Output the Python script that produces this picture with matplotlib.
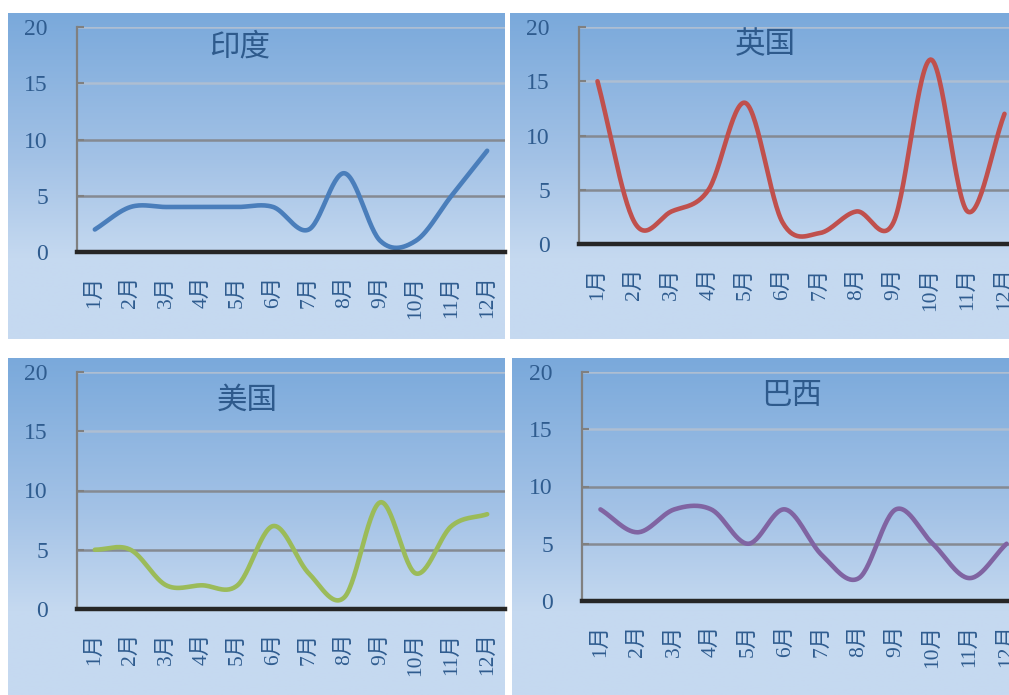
import numpy as np
import matplotlib
matplotlib.use("Agg")
import matplotlib.pyplot as plt
from matplotlib.colors import LinearSegmentedColormap

months = ["1月", "2月", "3月", "4月", "5月", "6月", "7月", "8月", "9月", "10月", "11月", "12月"]
titles = ["印度", "英国", "美国", "巴西"]
india = [2, 4, 4, 4, 4, 4, 2, 7, 1, 1, 5, 9]
uk = [15, 2, 3, 5, 13, 2, 1, 3, 2, 17, 3, 12]
usa = [5, 5, 2, 2, 2, 7, 3, 1, 9, 3, 7, 8]
brazil = [8, 6, 8, 8, 5, 8, 4, 2, 8, 5, 2, 5]
yticks = [0, 5, 10, 15, 20]
colors = ["#4A7EBB", "#C0504D", "#9BBB59", "#8064A2"]
series = [india, uk, usa, brazil]

W, H = 1009, 695
fig = plt.figure(figsize=(W / 100, H / 100), dpi=100)
fig.patch.set_facecolor("white")

serif = ["Liberation Serif", "Noto Sans CJK SC"]
tick_color = "#2F5C8F"

# panel layouts in pixels: (bg x0, y0, x1, y1), (plot left, top, bottom, right), title center
panels = [
    ((8, 13, 505, 339), (77, 27, 252, 505), (240, 47)),
    ((510, 13, 1009, 339), (579, 27, 244, 1023), (765, 45)),
    ((8, 358, 505, 695), (77, 372, 609, 505), (247, 400)),
    ((512, 358, 1009, 695), (582, 372, 601, 1025), (792, 395)),
]

cmap = LinearSegmentedColormap.from_list(
    "bg", [(0.0, "#7AA9DB"), (0.45, "#A3C2E6"), (0.75, "#C5D9F0"), (1.0, "#C6D9F0")])
grad = np.linspace(0, 1, 256).reshape(-1, 1)


def fx(px):
    return px / W


def fy(py):
    return 1 - py / H


def smooth(xs, ys, n=30):
    xs = np.asarray(xs, float)
    ys = np.asarray(ys, float)
    m = len(ys)
    t_y = np.zeros(m)
    for i in range(m):
        if i == 0:
            t_y[i] = (ys[1] - ys[0])
        elif i == m - 1:
            t_y[i] = (ys[-1] - ys[-2])
        else:
            t_y[i] = (ys[i + 1] - ys[i - 1]) / 2
    out_x, out_y = [], []
    for i in range(m - 1):
        t = np.linspace(0, 1, n, endpoint=(i == m - 2))
        h00 = 2 * t**3 - 3 * t**2 + 1
        h10 = t**3 - 2 * t**2 + t
        h01 = -2 * t**3 + 3 * t**2
        h11 = t**3 - t**2
        out_x.append(xs[i] + t * (xs[i + 1] - xs[i]))
        out_y.append(h00 * ys[i] + h10 * t_y[i] + h01 * ys[i + 1] + h11 * t_y[i + 1])
    return np.concatenate(out_x), np.concatenate(out_y)


for (bg, pl, tc), data, col, title in zip(panels, series, colors, titles):
    bx0, by0, bx1, by1 = bg
    bax = fig.add_axes([fx(bx0), fy(by1), fx(bx1 - bx0), (by1 - by0) / H])
    bax.imshow(grad, aspect="auto", cmap=cmap, extent=[0, 1, 0, 1], origin="upper")
    bax.set_axis_off()

    left, top, bottom, right = pl
    ax = fig.add_axes([fx(left), fy(bottom), fx(right - left), (bottom - top) / H])
    ax.set_facecolor("none")
    x = np.arange(len(months))
    ax.set_xlim(-0.5, len(months) - 0.5)
    ax.set_ylim(0, 20)
    for v in yticks[1:]:
        c = "#858A92" if v <= 10 else "#AEBED2"
        ax.axhline(v, color=c, lw=1.8, zorder=1)
    sx, sy = smooth(x, data)
    ax.plot(sx, sy, color=col, lw=3.3, solid_capstyle="round", zorder=3)

    ax.set_yticks(yticks)
    ax.set_yticklabels([str(v) for v in yticks], family=serif, fontsize=17, color=tick_color)
    ax.set_xticks(x)
    ax.set_xticklabels(months, family=serif, fontsize=15.5, color=tick_color, rotation=90)
    ax.tick_params(axis="y", direction="in", length=5, width=1.5, color="#808080", pad=21)
    ax.tick_params(axis="x", length=0, pad=17)
    for s in ("top", "right"):
        ax.spines[s].set_visible(False)
    ax.spines["left"].set_color("#808080")
    ax.spines["left"].set_linewidth(1.6)
    ax.spines["bottom"].set_color("#262626")
    ax.spines["bottom"].set_linewidth(3.2)
    ax.spines["bottom"].set_zorder(4)

    fig.text(fx(tc[0]), fy(tc[1]), title, ha="center", va="center",
             family=["Noto Sans CJK SC", "DejaVu Sans"], fontsize=22, color="#2E5A8C")

fig.savefig("out.png", dpi=100, facecolor=fig.get_facecolor())
